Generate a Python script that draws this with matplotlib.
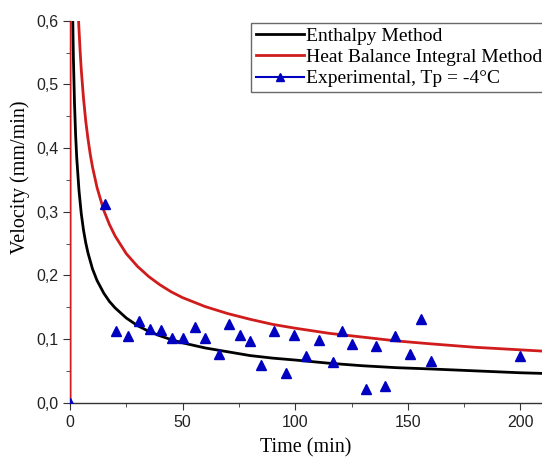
import matplotlib
matplotlib.use("Agg")
import matplotlib.pyplot as plt
from matplotlib.lines import Line2D
from matplotlib.ticker import MultipleLocator, FuncFormatter

# enthalpy method curve
t_enth = [1.2, 1.5, 2, 2.5, 3, 4, 5, 6, 7, 8, 10, 12, 15, 17.5, 20, 25, 30,
          35, 40, 45, 50, 60, 70, 80, 90, 100, 115, 130, 145, 160, 180, 200, 210]
v_enth = [0.607, 0.543, 0.47, 0.42, 0.384, 0.333, 0.297, 0.271, 0.251, 0.235,
          0.21, 0.192, 0.172, 0.159, 0.149, 0.133, 0.121, 0.112, 0.105, 0.099,
          0.094, 0.086, 0.080, 0.074, 0.070, 0.067, 0.062, 0.058, 0.055, 0.053,
          0.050, 0.047, 0.046]

# heat balance integral method curve
t_hbi = [0, 0, 3.8, 4.5, 5, 6, 7, 8, 9, 10, 12, 15, 17.5, 20, 25, 30, 35, 40,
         45, 50, 60, 70, 80, 90, 100, 115, 130, 145, 160, 180, 200, 210]
v_hbi = [0.0, 0.7, 0.60, 0.552, 0.523, 0.478, 0.442, 0.414, 0.39, 0.37, 0.338,
         0.302, 0.28, 0.262, 0.234, 0.214, 0.198, 0.185, 0.174, 0.165, 0.151,
         0.140, 0.131, 0.123, 0.117, 0.109, 0.103, 0.097, 0.0925, 0.087, 0.083,
         0.081]

# experimental points, Tp = -4 C
t_exp = [0, 15.5, 20.3, 25.6, 30.6, 35.5, 40.5, 45.3, 50.3, 55.5, 60, 66, 70.6,
         75.3, 80, 85, 90.5, 95.9, 99.4, 105, 110.6, 116.7, 120.9, 125, 131.2,
         135.7, 140, 144.3, 151, 155.7, 160.3, 200]
v_exp = [0.0, 0.312, 0.113, 0.105, 0.129, 0.116, 0.114, 0.102, 0.101, 0.119,
         0.101, 0.076, 0.123, 0.106, 0.097, 0.060, 0.113, 0.046, 0.107, 0.074,
         0.098, 0.064, 0.113, 0.092, 0.021, 0.089, 0.027, 0.105, 0.077, 0.131,
         0.065, 0.074]

W, H = 542, 459
fig = plt.figure(figsize=(W / 100, H / 100), dpi=100)
ax = fig.add_axes([70 / W, 1 - 402.7 / H, (543 - 70) / W, (402.7 - 20.7) / H])

ax.plot(t_enth, v_enth, color="black", lw=2, zorder=3)
ax.plot(t_hbi, v_hbi, color="#d01c1c", lw=2, zorder=4)
ax.plot(t_exp, v_exp, ls="none", marker="^", ms=7.5, color="#0000c0",
        markeredgecolor="#0000c0", zorder=5)

ax.set_xlim(0, 210)
ax.set_ylim(0, 0.6)
ax.xaxis.set_major_locator(MultipleLocator(50))
ax.xaxis.set_minor_locator(MultipleLocator(25))
ax.yaxis.set_major_locator(MultipleLocator(0.1))
ax.yaxis.set_minor_locator(MultipleLocator(0.05))
ax.yaxis.set_major_formatter(FuncFormatter(lambda v, p: f"{v:.1f}".replace(".", ",")))

for s in ["top", "right"]:
    ax.spines[s].set_visible(False)
for s in ["left", "bottom"]:
    ax.spines[s].set_linewidth(1.0)
    ax.spines[s].set_color("#333333")

ax.tick_params(which="both", direction="out", colors="#333333")
ax.tick_params(which="major", length=5, labelsize=11.5, labelcolor="#222222")
ax.tick_params(which="minor", length=3)
for lab in ax.get_xticklabels() + ax.get_yticklabels():
    lab.set_fontfamily("Liberation Sans")

ax.set_xlabel("Time (min)", family="Liberation Serif", fontsize=14.5, va="center")
ax.set_ylabel("Velocity (mm/min)", family="Liberation Serif", fontsize=14.5, va="center")
ax.xaxis.set_label_coords(0.499, -0.118)
ax.yaxis.set_label_coords(-0.106, 0.59)

handles = [
    Line2D([], [], color="black", lw=2),
    Line2D([], [], color="#d01c1c", lw=2),
    Line2D([], [], color="#0000c0", lw=1.5, marker="^", ms=6),
]
labels = ["Enthalpy Method", "Heat Balance Integral Method", "Experimental, Tp = -4°C"]
leg = fig.legend(handles, labels, loc="upper left",
                 bbox_to_anchor=(250.7 / W, 1 - 22.7 / H),
                 prop={"family": "Liberation Serif", "size": 14},
                 frameon=True, fancybox=False, borderpad=0.25,
                 labelspacing=0.18, handlelength=2.5, handletextpad=0.1,
                 borderaxespad=0)
leg.get_frame().set_edgecolor("#444444")
leg.get_frame().set_linewidth(1.0)

fig.savefig("out.png", dpi=100)
